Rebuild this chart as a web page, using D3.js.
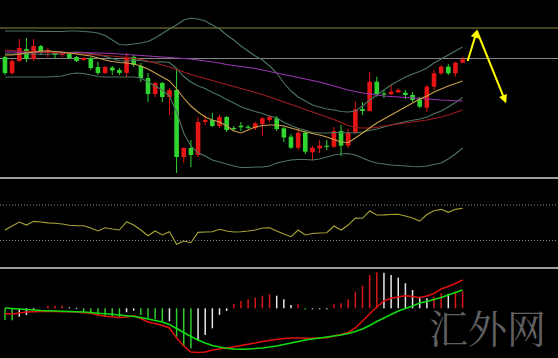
<!DOCTYPE html>
<html><head><meta charset="utf-8">
<script src="https://cdn.jsdelivr.net/npm/d3@7"></script>
<style>html,body{margin:0;padding:0;background:#000;overflow:hidden}svg{display:block}</style>
</head><body>
<svg id="chart" width="558" height="358"></svg>
<script>
// ---------- DATA ----------
const open = [1323,1307,1319,1331,1321,1334,1328,1328,1325,1327, 1323,1320,1322,1313,1307,1312.5,1310,1307,1323,1314, 1302,1286,1297,1283,1290,1223,1232,1225,1258,1260, 1254,1263,1252,1254.3,1253.3,1251.7,1256,1260,1261.7,1251.7, 1243.3,1232.3,1247.3,1227.7,1231.7,1234.3,1233.3,1249,1234.3,1247.3, 1271,1269,1298.3,1286.5,1285.7,1287.7,1287.3,1285,1280.7,1272.3, 1293.3,1306.7,1313.3,1306.7,1317.3];
const high = [1324,1321,1341,1342,1341,1335,1332,1329,1328,1328, 1324,1323,1323,1318,1314,1314,1312,1327,1325,1317, 1307,1298,1298,1292,1312,1233,1240,1263,1265,1267, 1265,1264,1254,1258,1255,1258,1263,1265,1264,1253, 1246,1252,1250,1234,1240,1240,1253,1255,1251,1278.3, 1278,1308.3,1303.3,1290,1295,1292,1290,1288,1283,1295, 1310,1315,1316,1318.3,1323.3];
const low = [1305,1305,1318,1318,1319,1325,1323,1322,1323,1321, 1318,1319,1310,1305,1306,1305,1305,1303,1313,1298, 1278,1283,1278,1265,1207,1217,1213,1223,1255,1253, 1252,1248,1249,1249,1251,1250,1244,1258,1249,1238, 1231,1230,1226,1220,1227,1230,1232,1224,1232,1246.7, 1265,1268.3,1283.3,1282,1285,1287,1281,1278,1272,1268.3, 1290,1305,1305,1303.3,1316.7];
const close = [1307,1319,1332,1321,1334,1328,1330,1325,1327,1322, 1319,1322,1312,1307,1313,1309.5,1307,1323,1315,1302, 1286,1297,1283,1290,1223,1232,1225,1258,1260,1254, 1263,1250,1251.3,1252.7,1252.3,1256.7,1261.7,1263.3,1251,1242.5, 1232.3,1247.3,1228.3,1232.3,1234.3,1233.3,1249,1234.3,1247.3,1270.7, 1269,1298.3,1286,1285.5,1288.3,1290,1285,1280,1273.3,1293.3, 1306.7,1313.3,1306.7,1317.3,1320.7];

const bbUpper = [1349,1349,1349,1349,1349,1348.5,1348.5,1348.5,1348.5,1349, 1349,1348.5,1348,1347,1344.5,1340,1335.5,1335,1336,1337, 1338.5,1342,1346.5,1351,1355,1360,1362,1361,1359,1355, 1351,1345,1340,1334,1329,1324,1320,1314,1307,1297, 1289,1283,1279,1275,1273,1271,1270,1268.5,1268,1269, 1274,1280,1285,1290,1295,1299,1303,1306,1308.5,1312, 1317,1321,1325,1329,1333];
const bbMiddle = [1326,1326,1326,1326,1326,1325.8,1325.8,1326,1326.2,1327.5, 1328,1327.5,1326.5,1325.2,1323.8,1321.5,1319.2,1319,1319.5,1319.5, 1318.2,1318,1318.2,1317.5,1311.5,1303.5,1298,1294,1291.5,1287.5, 1284.5,1280.5,1277,1273.2,1270.8,1268.5,1266.5,1264,1262,1257.8, 1254.5,1251.8,1249.8,1247.5,1247,1247,1247.5,1247.2,1247.2,1247, 1248,1249.5,1251,1253,1255,1256.8,1258.5,1259.8,1261,1263, 1266.2,1269,1273,1277.5,1282.5];
const bbLower = [1303,1303,1303,1303,1303,1303,1303,1303.5,1304,1306, 1307,1306.5,1305,1303.5,1303,1303,1303,1303,1303,1302, 1298,1294,1290,1284,1268,1247,1234,1227,1224,1220, 1218,1216,1214,1212.5,1212.5,1213,1213,1214,1217,1218.5, 1220,1220.5,1220.5,1220,1221,1223,1225,1226,1226.5,1225, 1222,1219,1217,1216,1215,1214.5,1214,1213.5,1213.3,1214, 1215.5,1217,1221,1226,1232];
const maSlow = [1328,1328,1327.9,1327.8,1327.7,1327.6,1327.5,1327.5,1327.4,1327.3, 1327.2,1327.2,1327.1,1327,1326.8,1326.5,1326,1325.5,1325,1324.5, 1324,1323.5,1323,1322.5,1322,1321.5,1321,1320,1319,1318, 1317,1315.5,1314.5,1313.5,1312.5,1311.5,1310,1308.5,1307,1305.5, 1304,1302.5,1301,1299.5,1298,1296,1294,1292,1290,1288.5, 1287,1286,1285,1284,1283.5,1283,1282.5,1282,1281.5,1281, 1280.5,1280,1279.7,1279.3,1279];
const maMid = [1330,1329.5,1329,1328.7,1328.4,1328,1327.7,1327.4,1327,1326.7, 1326.3,1326,1325.5,1325,1324.5,1324,1323.2,1322.5,1321.5,1320.5, 1319,1317,1315,1313,1310.5,1308,1305.5,1303.5,1301.5,1299.5, 1297.5,1295.5,1293.5,1291.5,1289.5,1287.5,1285.5,1283,1280.5,1278, 1275.5,1273,1270.5,1268,1265.5,1263,1260.5,1257.5,1254.5,1252.5, 1252,1252,1252.5,1254,1255,1256,1257,1258,1259,1260, 1261.5,1263,1265,1267.5,1270];
const maFast = [1325,1325,1326,1327,1328,1329,1329,1328.5,1328,1327, 1326,1325,1324,1322,1320,1318.5,1317.5,1317,1316,1314, 1311,1307,1303,1299,1291,1282,1274,1268,1263,1260, 1258,1254,1249,1247,1250,1253,1254.5,1255,1255,1254, 1252,1250,1248,1246.5,1245,1243,1240.5,1238,1237.5,1242, 1247,1252,1257,1261,1265,1269,1273,1277,1281,1284, 1288,1291,1294,1296.5,1299];
const priceLevels = [1352, 1321.5];

// forecast arrows (index, price)
const arrowIdx = [64.7, 66, 70];
const arrowPrice = [1319, 1349, 1278.3];

const rsi = [41.8,46.3,50.8,47.4,51.6,50.8,49.9,49.4,48.6,47.1, 46.6,46.6,44,40.7,44.4,42.9,41.8,51.2,47.4,41.8, 35.4,40.7,36.2,39.9,25.7,29.4,27.5,39.2,39.5,39.9, 42.6,40.7,39.5,39.9,40.7,41.8,44.1,44.4,40.7,37.3, 34.3,41.8,36.2,37.9,38.4,38.8,46.3,41.8,47.4,55.3, 55,63.2,58.7,58.9,59.3,59.5,57.6,55.3,51.9,59.3, 63.5,65.1,61.7,65.1,66.3];
const rsiLevels = [70, 30];

const macdHist = [-1.17,-1.2,-0.84,-0.67,-0.15,0,0.24,0.26,0.27,0.1, 0.05,-0.34,-0.47,-0.74,-0.8,-0.84,-0.86,-0.4,-0.24,-0.67, -1.0,-1.07,-1.34,-1.3,-2.84,-3.84,-4.0,-3.27,-2.67,-2.0, -0.67,-0.27,0.4,0.73,0.9,1.06,1.26,1.4,1.26,0.9, 0.33,0.4,-0.12,-0.1,-0.08,-0.05,0.4,0.5,0.9,1.66, 2.26,3.33,3.6,3.55,3.33,3.06,2.5,1.83,1.16,1.0, 1.16,1.5,1.45,1.66,1.7];
const macdLine = [-0.52,-0.57,-0.47,-0.37,-0.34,-0.32,-0.32,-0.32,-0.34,-0.34, -0.37,-0.44,-0.5,-0.67,-0.8,-0.84,-0.92,-0.87,-0.75,-1.02, -1.37,-1.52,-1.72,-1.97,-2.97,-3.77,-4.37,-4.42,-4.37,-4.17, -4.07,-3.97,-3.84,-3.72,-3.6,-3.47,-3.32,-3.22,-3.12,-3.02, -2.97,-2.97,-3.0,-3.0,-2.97,-2.94,-2.77,-2.62,-2.42,-1.97, -1.27,-0.57,0.13,0.73,1.0,1.13,1.26,1.18,1.06,1.23, 1.48,1.93,2.18,2.48,2.83];
const signalLine = [0.03,-0.02,-0.07,-0.12,-0.17,-0.22,-0.25,-0.27,-0.29,-0.32, -0.34,-0.37,-0.42,-0.49,-0.55,-0.6,-0.67,-0.75,-0.82,-0.92, -1.07,-1.22,-1.37,-1.62,-2.02,-2.42,-2.82,-3.17,-3.47,-3.72, -3.87,-4.0,-4.07,-4.1,-4.07,-4.03,-3.97,-3.87,-3.77,-3.62, -3.47,-3.32,-3.17,-3.07,-2.97,-2.87,-2.77,-2.67,-2.52,-2.32, -2.07,-1.72,-1.32,-0.97,-0.62,-0.27,-0.02,0.23,0.53,0.68, 0.88,1.08,1.33,1.58,1.83];

const watermark = "汇外网";

// ---------- DRAW ----------
const W = 558, H = 358;
const svg = d3.select("#chart");
const n = open.length;
const idx = d3.range(n);
const x = d3.scaleLinear().domain([0, n - 1]).range([5, 462.6]);
const yP = d3.scaleLinear().domain([1203, 1378]).range([177, 2]);
const yR = d3.scaleLinear().domain([0, 100]).range([267.1, 178.4]);
const yM = d3.scaleLinear().domain([-5, 4]).range([358.3, 268.3]);

svg.append("rect").attr("width", W).attr("height", H).attr("fill", "#000");

const defs = svg.append("defs");
defs.append("clipPath").attr("id", "cMain").append("rect").attr("x", 0).attr("y", 0).attr("width", W).attr("height", 177);
defs.append("clipPath").attr("id", "cRsi").append("rect").attr("x", 0).attr("y", 179).attr("width", W).attr("height", 88);
defs.append("clipPath").attr("id", "cMacd").append("rect").attr("x", 0).attr("y", 269).attr("width", W).attr("height", 89);
defs.append("marker").attr("id", "ah").attr("viewBox", "0 0 10 10").attr("refX", 8).attr("refY", 5)
  .attr("markerWidth", 5).attr("markerHeight", 4.2).attr("orient", "auto")
  .append("path").attr("d", "M0,0L10,5L0,10z").attr("fill", "#ffff00");

// main panel
const gMain = svg.append("g").attr("clip-path", "url(#cMain)");
gMain.selectAll("line.lvl").data(priceLevels).join("line").attr("class", "lvl")
  .attr("x1", 0).attr("x2", W).attr("y1", d => yP(d)).attr("y2", d => yP(d))
  .attr("stroke", (d, i) => i === 0 ? "#8a8a34" : "#858585").attr("stroke-width", 1.2);

const upC = "#e61616", dnC = "#30d630";
const col = i => close[i] > open[i] ? upC : dnC;
gMain.selectAll("line.wick").data(idx).join("line").attr("class", "wick")
  .attr("x1", i => x(i)).attr("x2", i => x(i))
  .attr("y1", i => yP(high[i])).attr("y2", i => yP(low[i]))
  .attr("stroke", col).attr("stroke-width", 1);
gMain.selectAll("rect.body").data(idx).join("rect").attr("class", "body")
  .attr("x", i => x(i) - 2.3).attr("width", 4.6)
  .attr("y", i => yP(Math.max(open[i], close[i])))
  .attr("height", i => Math.max(1.2, Math.abs(yP(open[i]) - yP(close[i]))))
  .attr("fill", col);

const lineP = arr => d3.line().x((d, i) => x(i)).y(d => yP(d))(arr);
const series = [
  [bbUpper, "#4d7563"], [bbMiddle, "#4d7563"], [bbLower, "#4d7563"],
  [maSlow, "#9a34b0"], [maMid, "#a01c1c"], [maFast, "#c9a24a"]
];
gMain.selectAll("path.ma").data(series).join("path").attr("class", "ma")
  .attr("d", d => lineP(d[0])).attr("fill", "none").attr("stroke", d => d[1]).attr("stroke-width", 1.1);

// forecast arrows
const ap = arrowIdx.map((v, i) => [x(v), yP(arrowPrice[i])]);
[[ap[0], ap[1]], [ap[1], ap[2]]].forEach(seg => {
  svg.append("line").attr("x1", seg[0][0]).attr("y1", seg[0][1]).attr("x2", seg[1][0]).attr("y2", seg[1][1])
    .attr("stroke", "#ffff00").attr("stroke-width", 2).attr("marker-end", "url(#ah)");
});

// separators
svg.append("rect").attr("x", 0).attr("y", 177).attr("width", W).attr("height", 2).attr("fill", "#9d9d9d");
svg.append("rect").attr("x", 0).attr("y", 267).attr("width", W).attr("height", 2).attr("fill", "#9d9d9d");

// RSI panel
const gR = svg.append("g").attr("clip-path", "url(#cRsi)");
gR.selectAll("line.rl").data(rsiLevels).join("line").attr("class", "rl")
  .attr("x1", 0).attr("x2", W).attr("y1", d => yR(d)).attr("y2", d => yR(d))
  .attr("stroke", "#8c8c8c").attr("stroke-width", 1).attr("stroke-dasharray", "1,2");
gR.append("path").attr("d", d3.line().x((d, i) => x(i)).y(d => yR(d))(rsi))
  .attr("fill", "none").attr("stroke", "#a9a436").attr("stroke-width", 1.1);

// MACD panel
const gM = svg.append("g").attr("clip-path", "url(#cMacd)");
const histColor = i => {
  const v = macdHist[i], p = i > 0 ? macdHist[i - 1] : v;
  if (v > 0) return v >= p ? "#d81818" : "#e6e6e6";
  return v <= p ? "#2ccc2c" : "#e6e6e6";
};
gM.selectAll("rect.h").data(idx.filter(i => macdHist[i] !== 0)).join("rect").attr("class", "h")
  .attr("x", i => x(i) - 0.75).attr("width", 1.5)
  .attr("y", i => Math.min(yM(0), yM(macdHist[i])))
  .attr("height", i => Math.max(1, Math.abs(yM(macdHist[i]) - yM(0))))
  .attr("fill", histColor);
gM.append("path").attr("d", d3.line().x((d, i) => x(i)).y(d => yM(d))(macdLine))
  .attr("fill", "none").attr("stroke", "#e01010").attr("stroke-width", 1.5);
gM.append("path").attr("d", d3.line().x((d, i) => x(i)).y(d => yM(d))(signalLine))
  .attr("fill", "none").attr("stroke", "#10dd10").attr("stroke-width", 1.5);

// watermark
svg.append("text").attr("x", 429).attr("y", 343).text(watermark)
  .attr("font-family", "'Noto Serif CJK SC','Noto Sans CJK SC',sans-serif")
  .attr("font-size", 39).attr("fill", "#606060");
</script>
</body></html>
